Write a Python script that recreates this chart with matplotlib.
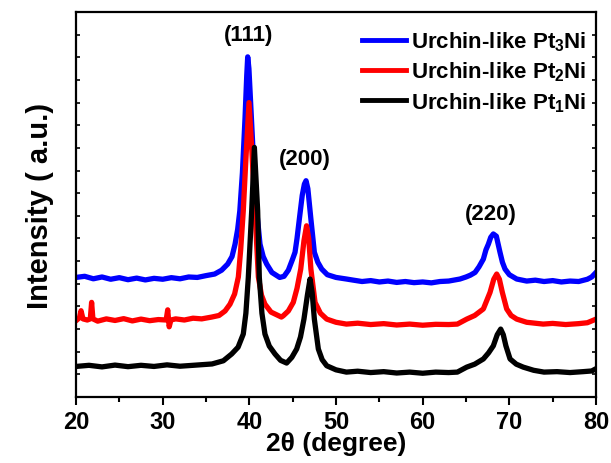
import matplotlib
matplotlib.use('Agg')
import matplotlib.pyplot as plt
from matplotlib.ticker import MultipleLocator

plt.rcParams['font.family'] = ['Liberation Sans', 'DejaVu Sans']
plt.rcParams['font.weight'] = 'bold'
plt.rcParams['mathtext.fontset'] = 'custom'
plt.rcParams['mathtext.rm'] = 'Liberation Sans:bold'
plt.rcParams['mathtext.it'] = 'Liberation Sans:bold'
plt.rcParams['mathtext.bf'] = 'Liberation Sans:bold'

# XRD patterns (offset stacked, arbitrary units)
pt3_x = [20.0, 21.0, 22.0, 23.0, 24.0, 25.0, 26.0, 27.0, 28.0, 29.0, 30.0, 31.0, 32.0, 33.0,
         34.0, 35.0, 36.0, 36.8, 37.5, 38.0, 38.35, 38.65, 38.9, 39.2, 39.5, 39.7, 39.81,
         39.95, 40.2, 40.5, 40.85, 41.23, 41.6, 42.0, 42.6, 43.5, 44.0, 44.5, 45.0, 45.27,
         45.5, 45.77, 46.1, 46.35, 46.54, 46.75, 47.1, 47.5, 47.9, 48.35, 49.0, 50.0, 51.2,
         52.0, 53.0, 54.0, 55.0, 56.0, 57.0, 58.0, 59.0, 60.0, 61.0, 62.0, 63.0, 64.3, 65.0,
         65.5, 66.04, 66.5, 67.0, 67.3, 67.58, 67.85, 68.15, 68.5, 68.92, 69.2, 69.5, 70.0,
         70.85, 72.0, 73.0, 74.0, 75.0, 76.0, 77.0, 78.0, 79.0, 79.5, 80.0]
pt3_y = [5.28, 5.33, 5.22, 5.30, 5.20, 5.27, 5.18, 5.25, 5.17, 5.24, 5.20, 5.27, 5.22, 5.30,
         5.28, 5.36, 5.43, 5.6, 5.87, 6.2, 6.75, 7.4, 8.22, 9.9, 12.3, 14.2, 15.02,
         14.5, 12.6, 10.3, 8.22, 6.75, 6.2, 5.87, 5.5, 5.28, 5.33, 5.6, 6.1, 6.39,
         7.0, 7.86, 8.9, 9.4, 9.55, 9.2, 7.86, 6.39, 5.95, 5.65, 5.4, 5.28, 5.21,
         5.16, 5.10, 5.14, 5.08, 5.12, 5.06, 5.10, 5.05, 5.08, 5.04, 5.10, 5.12, 5.21, 5.3,
         5.38, 5.5, 5.75, 6.09, 6.5, 6.75, 7.05, 7.2, 7.1, 6.39, 5.95, 5.65, 5.4,
         5.21, 5.12, 5.16, 5.10, 5.14, 5.08, 5.12, 5.10, 5.20, 5.3, 5.5]

pt2_x = [20.0, 20.4, 20.58, 20.8, 21.3, 21.65, 21.8, 21.95, 22.5, 23.5, 24.5, 25.5, 26.5, 27.5,
         28.5, 29.5, 30.4, 30.58, 30.75, 30.95, 31.5, 32.5, 33.5, 34.5, 35.65, 36.5, 37.2,
         37.77, 38.3, 38.73, 39.0, 39.3, 39.6, 39.96, 40.3, 40.65, 41.04, 41.4, 41.8, 42.5,
         43.7, 43.92, 44.5, 45.07, 45.5, 45.93, 46.3, 46.6, 46.85, 47.1, 47.58, 48.2, 48.93,
         50.0, 51.2, 52.5, 54.0, 55.5, 57.0, 58.5, 60.0, 61.5, 63.0, 64.0, 65.08, 66.0, 67.0,
         67.77, 68.2, 68.54, 68.85, 69.19, 69.69, 70.2, 70.85, 72.0, 73.9, 75.0, 76.5, 78.0,
         79.0, 80.0]
pt2_y = [3.37, 3.5, 3.81, 3.45, 3.4, 3.45, 4.18, 3.45, 3.35, 3.45, 3.38, 3.46, 3.36, 3.44,
         3.37, 3.42, 3.4, 3.85, 3.1, 3.4, 3.45, 3.4, 3.48, 3.45, 3.53, 3.6, 3.8,
         4.1, 4.55, 5.3, 6.5, 8.22, 10.5, 13.0, 10.8, 8.22, 5.3, 4.5, 4.1, 3.75,
         3.53, 3.59, 3.8, 4.18, 4.8, 5.65, 6.9, 7.56, 7.0, 5.65, 4.18, 3.7, 3.44,
         3.3, 3.22, 3.26, 3.20, 3.24, 3.18, 3.22, 3.17, 3.21, 3.20, 3.22, 3.44, 3.6, 3.89,
         4.62, 5.2, 5.43, 5.2, 4.62, 3.89, 3.6, 3.44, 3.3, 3.22, 3.25, 3.20, 3.24,
         3.28, 3.44]

pt1_x = [20.0, 21.5, 23.0, 24.5, 26.0, 27.5, 29.0, 30.5, 32.0, 33.5, 35.7, 37.0, 37.96, 38.7,
         39.3, 39.6, 39.88, 40.27, 40.58, 40.96, 41.15, 41.45, 41.8, 42.3, 42.96, 43.6, 44.3,
         44.9, 45.46, 45.9, 46.3, 46.7, 47.0, 47.25, 47.5, 47.96, 48.4, 48.93, 50.0, 51.2,
         52.5, 54.0, 55.5, 57.0, 58.5, 60.0, 61.5, 63.0, 64.0, 65.08, 66.0, 67.0, 67.6, 68.15,
         68.6, 69.0, 69.3, 69.6, 70.08, 70.8, 71.6, 72.8, 74.0, 75.5, 77.0, 78.5, 79.5, 80.0]
pt1_y = [1.35, 1.40, 1.33, 1.41, 1.34, 1.40, 1.35, 1.42, 1.36, 1.40, 1.46, 1.6, 1.9, 2.2,
         2.78, 3.7, 5.28, 8.22, 11.02, 8.22, 5.28, 3.7, 2.78, 2.25, 1.9, 1.62, 1.5,
         1.75, 2.12, 2.65, 3.44, 4.5, 5.21, 4.6, 3.44, 2.12, 1.65, 1.38, 1.2, 1.1,
         1.14, 1.08, 1.12, 1.06, 1.10, 1.05, 1.10, 1.08, 1.1, 1.32, 1.45, 1.68, 1.95, 2.26,
         2.75, 3.0, 2.75, 2.26, 1.68, 1.45, 1.32, 1.18, 1.1, 1.12, 1.08, 1.12, 1.15, 1.25]

labels = ['Urchin-like Pt$_3$Ni', 'Urchin-like Pt$_2$Ni', 'Urchin-like Pt$_1$Ni']
colors = ['#0000ff', '#ff0000', '#000000']
peak_names = ['(111)', '(200)', '(220)']
peak_pos = [(39.9, 15.55), (46.4, 10.05), (67.9, 7.65)]

fig = plt.figure(figsize=(6.11, 4.64), dpi=100)
ax = fig.add_axes([0.1244, 0.1422, 0.8511, 0.8298])

ax.plot(pt3_x, pt3_y, color=colors[0], lw=3.8, label=labels[0])
ax.plot(pt2_x, pt2_y, color=colors[1], lw=3.8, label=labels[1])
ax.plot(pt1_x, pt1_y, color=colors[2], lw=3.8, label=labels[2])

for name, (px, py) in zip(peak_names, peak_pos):
    ax.text(px, py, name, ha='center', va='bottom', fontsize=16, fontweight='bold')

ax.set_xlim(20, 80)
ax.set_ylim(0, 17)
ax.xaxis.set_major_locator(MultipleLocator(10))
ax.xaxis.set_minor_locator(MultipleLocator(5))
ax.yaxis.set_major_locator(MultipleLocator(1))
ax.tick_params(axis='x', which='major', direction='out', length=6, width=1.5,
               labelsize=17, pad=3)
ax.tick_params(axis='x', which='minor', direction='out', length=3.5, width=1.5)
ax.tick_params(axis='y', which='major', direction='in', length=3, width=1.2,
               left=True, right=True, labelleft=False)
for lbl in ax.get_xticklabels():
    lbl.set_fontweight('bold')
for sp in ax.spines.values():
    sp.set_linewidth(1.6)

ax.set_xlabel('2\u03b8 (degree)', fontsize=19, fontweight='bold', labelpad=-1)
ax.set_ylabel('Intensity ( a.u.)', fontsize=21, fontweight='bold', labelpad=16)

leg = ax.legend(loc='upper right', frameon=False, fontsize=16, handlelength=2.0,
                handletextpad=0.2, labelspacing=0.3, borderaxespad=0.0,
                borderpad=0.1, bbox_to_anchor=(0.985, 0.96))
for h in leg.get_lines():
    h.set_linewidth(3.5)

fig.savefig('out.png', dpi=100)
